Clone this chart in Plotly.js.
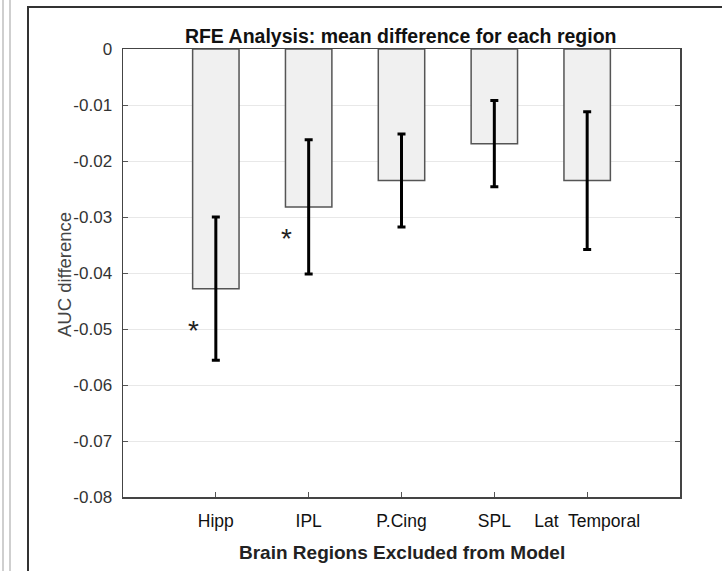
<!DOCTYPE html>
<html>
<head>
<meta charset="utf-8">
<script src="https://cdn.plot.ly/plotly-3.0.1.min.js"></script>
<style>
  html, body { margin: 0; padding: 0; background: #ffffff; }
  #wrap { position: relative; width: 722px; height: 571px; overflow: hidden; background: #fff; }
  #chart { position: absolute; left: 0; top: 0; width: 722px; height: 571px; }
  .deco { position: absolute; pointer-events: none; }
</style>
</head>
<body>
<div id="wrap">
  <div id="chart"></div>
  <div class="deco" style="left:2px; top:0; width:2px; height:571px; background:#cfcfcf;"></div>
  <div class="deco" style="left:9px; top:0; width:2px; height:571px; background:#cfcfcf;"></div>
  <div class="deco" style="left:27px; top:6px; width:695px; height:2px; background:#333;"></div>
  <div class="deco" style="left:27px; top:6px; width:2px; height:565px; background:#333;"></div>
</div>
<script>
// ---- data ----
const categories = ["Hipp", "IPL", "P.Cing", "SPL", "Lat  Temporal"];
const categoryPositions = [1, 2, 3, 4, 5];
const meanDiff = [-0.0428, -0.0282, -0.0235, -0.0169, -0.0235];
const errHalf = [0.0128, 0.0120, 0.0083, 0.0077, 0.0123];
const starPositions = [0.76, 1.76];
const starValues = [-0.0489, -0.0324];
const yTickVals = [0, -0.01, -0.02, -0.03, -0.04, -0.05, -0.06, -0.07, -0.08];
const yTickText = ["0", "-0.01", "-0.02", "-0.03", "-0.04", "-0.05", "-0.06", "-0.07", "-0.08"];

const FONT = "Liberation Sans, Arial, sans-serif";

const trace = {
  type: "bar",
  x: categoryPositions,
  y: meanDiff,
  width: 0.5,
  marker: { color: "#f0f0f0", line: { color: "#555555", width: 1.5 } },
  error_y: { type: "data", array: errHalf, visible: true, color: "#000000", thickness: 3, width: 4 },
  hoverinfo: "none"
};

const annotations = starPositions.map((xv, i) => ({
  x: xv, y: starValues[i], xref: "x", yref: "y",
  text: "*", showarrow: false,
  font: { family: FONT, size: 28, color: "#222" },
  yshift: -8
}));

// axis titles placed as annotations (real text)
annotations.push({
  xref: "paper", yref: "paper", x: (64 - 123) / 557, y: (497 - 275) / 448,
  xanchor: "center", yanchor: "middle", textangle: -90, showarrow: false,
  text: "AUC difference",
  font: { family: FONT, size: 18.5, color: "#444" }
});
annotations.push({
  xref: "paper", yref: "paper", x: 0.5, y: (497 - 552) / 448,
  xanchor: "center", yanchor: "middle", showarrow: false,
  text: "<b>Brain Regions Excluded from Model</b>",
  font: { family: FONT, size: 19, color: "#222" }
});

const layout = {
  width: 722,
  height: 571,
  margin: { l: 123, r: 42, t: 49, b: 74, pad: 0 },
  paper_bgcolor: "rgba(0,0,0,0)",
  plot_bgcolor: "#ffffff",
  showlegend: false,
  title: {
    text: "<b>RFE Analysis: mean difference for each region</b>",
    font: { family: FONT, size: 19.5, color: "#111" },
    x: 0.555, xanchor: "center",
    y: 1 - 36 / 571, yanchor: "middle"
  },
  xaxis: {
    range: [0, 6],
    tickvals: categoryPositions,
    ticktext: categories,
    ticks: "inside",
    ticklen: 5,
    tickcolor: "#555",
    showgrid: false,
    zeroline: false,
    showline: true,
    mirror: true,
    linecolor: "#444",
    linewidth: 1.5,
    ticklabelstandoff: 7,
    tickfont: { family: FONT, size: 17.5, color: "#111" }
  },
  yaxis: {
    range: [-0.08, 0],
    tickvals: yTickVals,
    ticktext: yTickText,
    ticks: "inside",
    ticklen: 5,
    tickcolor: "#555",
    showgrid: true,
    gridcolor: "#e8e8e8",
    gridwidth: 1,
    zeroline: false,
    showline: true,
    mirror: "ticks",
    linecolor: "#444",
    linewidth: 1.5,
    ticklabelstandoff: 6,
    tickfont: { family: FONT, size: 17, color: "#333" }
  },
  annotations: annotations
};

Plotly.newPlot("chart", [trace], layout, { displayModeBar: false, staticPlot: true });
</script>
</body>
</html>
